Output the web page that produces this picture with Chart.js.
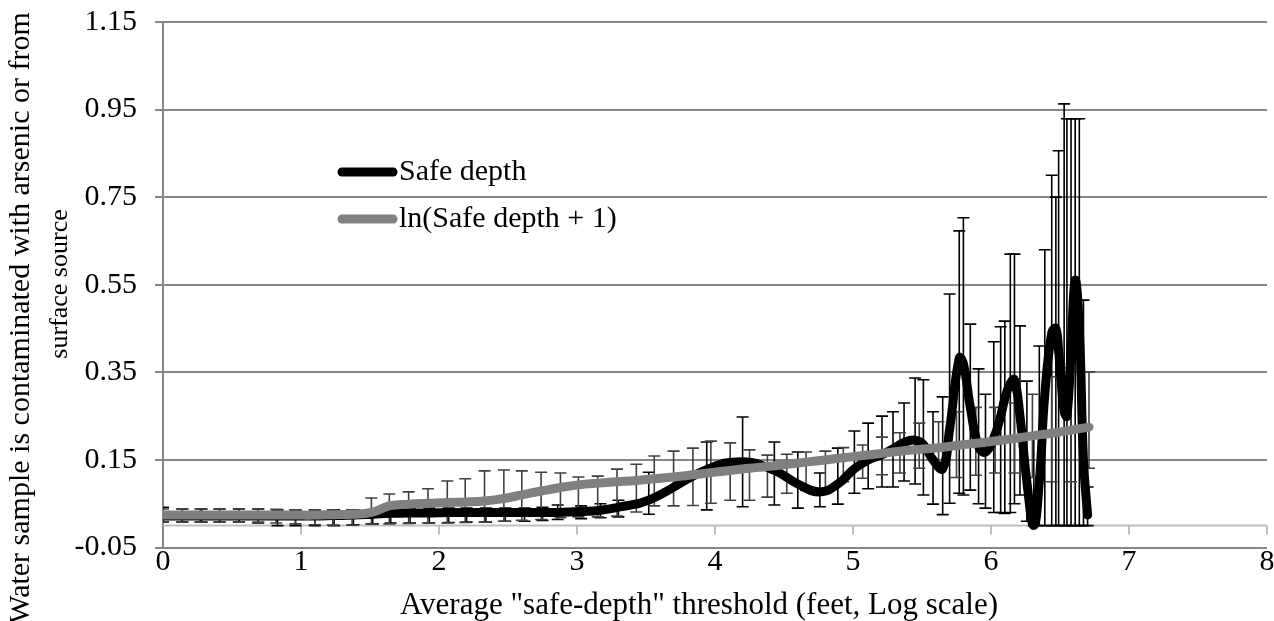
<!DOCTYPE html>
<html>
<head>
<meta charset="utf-8">
<script src="https://cdn.jsdelivr.net/npm/chart.js@4.4.0/dist/chart.umd.min.js"></script>
<style>
  body { margin: 0; background: #fff; }
  canvas { display: block; }
</style>
</head>
<body>
<canvas id="myChart" width="1274" height="621"></canvas>
<script>
// tick values of the value axis
const yTicks = [-0.05, 0.15, 0.35, 0.55, 0.75, 0.95, 1.15];

// ln(Safe depth + 1) series
const lnX  = [0, 0.14, 0.27, 0.41, 0.55, 0.69, 0.82, 0.96, 1.1, 1.23,
              1.37, 1.51, 1.64, 1.78, 1.92, 2.06, 2.19, 2.33, 2.47, 2.6,
              2.74, 2.88, 3.01, 3.15, 3.29, 3.43, 3.56, 3.7, 3.84, 3.97,
              4.11, 4.25, 4.38, 4.52, 4.66, 4.8, 4.93, 5.07, 5.21, 5.34,
              5.48, 5.62, 5.75, 5.89, 6.03, 6.17, 6.3, 6.44, 6.58, 6.71];
const lnY  = [0.024, 0.024, 0.024, 0.024, 0.024, 0.024, 0.024, 0.024, 0.024, 0.025,
              0.026, 0.03, 0.045, 0.049, 0.051, 0.053, 0.054, 0.056, 0.062, 0.07,
              0.079, 0.087, 0.093, 0.097, 0.1, 0.103, 0.107, 0.111, 0.116, 0.121,
              0.126, 0.131, 0.135, 0.14, 0.145, 0.15, 0.155, 0.16, 0.165, 0.17,
              0.174, 0.178, 0.183, 0.188, 0.193, 0.199, 0.205, 0.211, 0.218, 0.225];
const lnHi = [0.038, 0.038, 0.038, 0.038, 0.038, 0.038, 0.037, 0.036, 0.036, 0.036,
              0.036, 0.063, 0.072, 0.077, 0.084, 0.102, 0.107, 0.125, 0.127, 0.125,
              0.122, 0.12, 0.111, 0.113, 0.129, 0.14, 0.159, 0.17, 0.177, 0.193,
              0.189, 0.173, 0.161, 0.163, 0.168, 0.17, 0.178, 0.184, 0.202, 0.212,
              0.234, 0.237, 0.26, 0.27, 0.27, 0.28, 0.3, 0.34, 0.36, 0.351];
const lnLo = [0.008, 0.008, 0.008, 0.008, 0.008, 0.008, 0.006, 0.004, 0.002, 0.001,
              0.001, 0.004, 0.004, 0.005, 0.006, 0.006, 0.007, 0.008, 0.01, 0.012,
              0.014, 0.018, 0.02, 0.02, 0.022, 0.031, 0.045, 0.045, 0.046, 0.051,
              0.058, 0.058, 0.065, 0.074, 0.08, 0.085, 0.1, 0.108, 0.116, 0.12,
              0.131, 0.13, 0.11, 0.115, 0.12, 0.12, 0.11, 0.1, 0.1, 0.131];

// Safe depth series
const safeX  = [0, 0.14, 0.28, 0.41, 0.55, 0.69, 0.83, 0.96, 1.1, 1.24,
                1.38, 1.52, 1.65, 1.79, 1.93, 2.07, 2.2, 2.34, 2.48, 2.62,
                2.75, 2.86, 3.03, 3.17, 3.3, 3.52, 3.94, 4.2, 4.43, 4.6,
                4.76, 4.89, 5.01, 5.11, 5.21, 5.29, 5.37, 5.45, 5.51, 5.58,
                5.65, 5.7, 5.77, 5.8, 5.85, 5.91, 5.96, 6.02, 6.07, 6.1,
                6.14, 6.17, 6.21, 6.26, 6.31, 6.35, 6.39, 6.44, 6.47, 6.49,
                6.53, 6.55, 6.58, 6.61, 6.64, 6.67, 6.7];
const safeY  = [0.022, 0.022, 0.022, 0.022, 0.022, 0.022, 0.022, 0.022, 0.022, 0.023,
                0.024, 0.026, 0.028, 0.029, 0.029, 0.03, 0.03, 0.03, 0.03, 0.03,
                0.03, 0.03, 0.032, 0.035, 0.042, 0.058, 0.128, 0.146, 0.126, 0.095,
                0.077, 0.095, 0.13, 0.15, 0.162, 0.175, 0.19, 0.195, 0.185, 0.15,
                0.13, 0.22, 0.383, 0.37, 0.27, 0.18, 0.168, 0.2, 0.25, 0.29,
                0.325, 0.333, 0.25, 0.1, 0.0, 0.1, 0.3, 0.44, 0.45, 0.4,
                0.26, 0.25, 0.4, 0.56, 0.45, 0.15, 0.024];
const safeHi = [0.042, 0.038, 0.038, 0.038, 0.038, 0.038, 0.036, 0.036, 0.036, 0.036,
                0.036, 0.036, 0.038, 0.04, 0.04, 0.04, 0.04, 0.04, 0.04, 0.04,
                0.042, 0.047, 0.045, 0.05, 0.058, 0.122, 0.191, 0.248, 0.191, 0.168,
                0.12, 0.177, 0.216, 0.234, 0.25, 0.26, 0.28, 0.337, 0.333, 0.26,
                0.294, 0.529, 0.673, 0.703, 0.46, 0.358, 0.3, 0.42, 0.454, 0.467,
                0.62, 0.62, 0.456, 0.33, 0.2, 0.41, 0.63, 0.8, 0.75, 0.856,
                0.963, 0.929, 0.929, 0.929, 0.929, 0.515, 0.088];
const safeLo = [0.008, 0.008, 0.008, 0.008, 0.008, 0.006, 0.0, 0.0, 0.0, 0.0,
                0.002, 0.004, 0.006, 0.006, 0.006, 0.007, 0.008, 0.008, 0.01, 0.01,
                0.012, 0.014, 0.016, 0.018, 0.02, 0.026, 0.036, 0.043, 0.047, 0.04,
                0.043, 0.049, 0.074, 0.084, 0.088, 0.088, 0.102, 0.095, 0.07, 0.049,
                0.025, 0.051, 0.074, 0.07, 0.081, 0.05, 0.04, 0.03, 0.03, 0.028,
                0.03, 0.05, 0.07, 0.01, 0.0, 0.0, 0.0, 0.0, 0.0, 0.0,
                0.0, 0.0, 0.0, 0.0, 0.0, 0.0, 0.0];

const FONT = 'Liberation Serif';
const GRID = '#868686';

function pts(xs, ys) { return xs.map((x, i) => ({ x: x, y: ys[i] })); }

// axis at y=0 and error bars, drawn under the lines
const errorBars = {
  id: 'errorBars',
  beforeDatasetsDraw(chart) {
    const { ctx, chartArea: a, scales: { x, y } } = chart;
    ctx.save();
    const y0 = y.getPixelForValue(0);
    ctx.strokeStyle = '#bfbfbf';
    ctx.lineWidth = 2;
    ctx.beginPath();
    ctx.moveTo(a.left, y0); ctx.lineTo(a.right, y0);
    x.ticks.forEach(t => {
      const px = x.getPixelForValue(t.value);
      if (px <= a.left + 1) return;
      ctx.moveTo(px, y0); ctx.lineTo(px, y0 + 9);
    });
    ctx.stroke();

    ctx.beginPath();
    ctx.rect(a.left, a.top, a.right - a.left, a.bottom - a.top);
    ctx.clip();
    chart.data.datasets.slice().reverse().forEach(ds => {
      ctx.strokeStyle = ds.errColor;
      ctx.lineWidth = 1.6;
      ds.data.forEach((p, i) => {
        const px = x.getPixelForValue(p.x);
        const t = y.getPixelForValue(ds.errHi[i]);
        const b = y.getPixelForValue(ds.errLo[i]);
        ctx.beginPath();
        ctx.moveTo(px, t); ctx.lineTo(px, b);
        ctx.moveTo(px - 6, t); ctx.lineTo(px + 6, t);
        ctx.moveTo(px - 6, b); ctx.lineTo(px + 6, b);
        ctx.stroke();
      });
    });
    ctx.restore();
  }
};

// legend and axis titles
const labels = {
  id: 'labels',
  afterDraw(chart) {
    const { ctx } = chart;
    ctx.save();
    ctx.fillStyle = '#000';
    ctx.font = '30px "' + FONT + '"';
    ctx.textBaseline = 'middle';

    // legend
    chart.data.datasets.slice().reverse().forEach((ds, i) => {
      const ly = 172 + i * 47;
      ctx.strokeStyle = ds.borderColor;
      ctx.lineWidth = 9;
      ctx.lineCap = 'round';
      ctx.beginPath();
      ctx.moveTo(342, ly); ctx.lineTo(393, ly);
      ctx.stroke();
      ctx.textAlign = 'left';
      ctx.fillText(ds.label, 399, ly);
    });

    // x title
    ctx.textAlign = 'center';
    ctx.font = '31px "' + FONT + '"';
    ctx.fillText('Average "safe-depth" threshold (feet, Log scale)', 699, 606);

    // y title (two lines)
    ctx.font = '30px "' + FONT + '"';
    ctx.save();
    ctx.translate(21, 318);
    ctx.rotate(-Math.PI / 2);
    ctx.fillText('Water sample is contaminated with arsenic or from', 0, 0);
    ctx.restore();
    ctx.save();
    ctx.font = '26px "' + FONT + '"';
    ctx.translate(60, 284);
    ctx.rotate(-Math.PI / 2);
    ctx.fillText('surface source', 0, 0);
    ctx.restore();
    ctx.restore();
  }
};

const ctx = document.getElementById('myChart');

const chart = new Chart(ctx, {
  type: 'line',
  data: {
    datasets: [
      {
        label: 'ln(Safe depth + 1)',
        data: pts(lnX, lnY),
        errHi: lnHi, errLo: lnLo, errColor: '#404040',
        borderColor: '#808080',
        borderWidth: 9,
        tension: 0.45,
        pointRadius: 0,
        borderCapStyle: 'round',
        borderJoinStyle: 'round',
        order: 1
      },
      {
        label: 'Safe depth',
        data: pts(safeX, safeY),
        errHi: safeHi, errLo: safeLo, errColor: '#000000',
        borderColor: '#000000',
        borderWidth: 9,
        tension: 0.45,
        pointRadius: 0,
        borderCapStyle: 'round',
        borderJoinStyle: 'round',
        order: 2
      }
    ]
  },
  options: {
    responsive: false,
    animation: false,
    layout: { padding: { top: 22, right: 7, left: 0, bottom: 0 } },
    plugins: {
      legend: { display: false },
      tooltip: { enabled: false }
    },
    scales: {
      x: {
        type: 'linear',
        min: 0,
        max: 8,
        ticks: {
          stepSize: 1,
          color: '#000',
          padding: -11,
          font: { family: FONT, size: 30 }
        },
        grid: { display: false },
        border: { display: false },
        afterFit(scale) {
          scale.height = 73.5;
          scale.paddingLeft = 0;
          scale.paddingRight = 0;
        }
      },
      y: {
        min: -0.05,
        max: 1.15,
        afterBuildTicks(scale) { scale.ticks = yTicks.map(v => ({ value: v })); },
        ticks: {
          color: '#000',
          padding: 18,
          font: { family: FONT, size: 30 },
          callback: v => v.toFixed(2)
        },
        grid: { color: GRID, lineWidth: 2, tickLength: 8, tickColor: GRID },
        border: { color: GRID, width: 2 },
        afterFit(scale) {
          scale.width = 163;
          scale.paddingTop = 0;
          scale.paddingBottom = 0;
        }
      }
    }
  },
  plugins: [errorBars, labels]
});
</script>
</body>
</html>
